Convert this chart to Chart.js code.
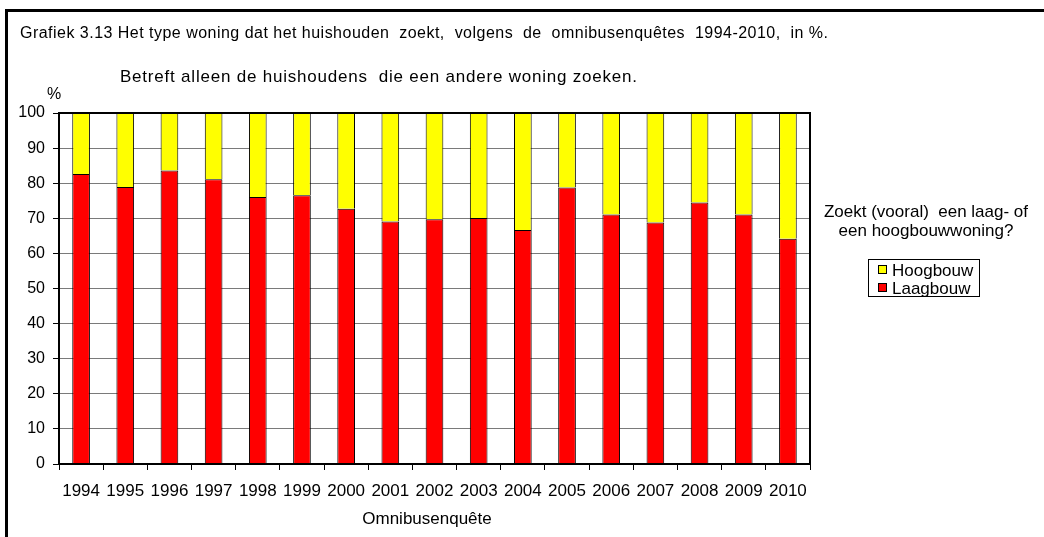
<!DOCTYPE html>
<html>
<head>
<meta charset="utf-8">
<script src="https://cdn.jsdelivr.net/npm/chart.js@4"></script>
<style>
  html, body { margin: 0; padding: 0; background: #fff; }
  #wrap { width: 1044px; height: 537px; }
</style>
</head>
<body>
<div id="wrap"><canvas id="myChart" width="1044" height="537"></canvas></div>
<script>
const years = ["1994", "1995", "1996", "1997", "1998", "1999", "2000", "2001", "2002",
  "2003", "2004", "2005", "2006", "2007", "2008", "2009", "2010"];
const laagbouw = [82.6, 78.9, 83.6, 81.1, 76.1, 76.6, 72.7, 69.1, 69.7,
  70.1, 66.7, 78.8, 71.1, 68.8, 74.5, 71.1, 64.2];
const hoogbouw = [17.4, 21.1, 16.4, 18.9, 23.9, 23.4, 27.3, 30.9, 30.3,
  29.9, 33.3, 21.2, 28.9, 31.2, 25.5, 28.9, 35.8];
const yTicks = [0, 10, 20, 30, 40, 50, 60, 70, 80, 90, 100];

const titleText = "Grafiek 3.13 Het type woning dat het huishouden  zoekt,  volgens  de  omnibusenquêtes  1994-2010,  in %.";
const subTitleText = "Betreft alleen de huishoudens  die een andere woning zoeken.";
const legendTitle = ["Zoekt (vooral)  een laag- of", "een hoogbouwwoning?"];

const FONT = "'Liberation Sans', Arial, sans-serif";
Chart.defaults.font.family = FONT;
Chart.defaults.color = "#000";

// text spread out a little to the width Excel gave it
function spreadText(ctx, text, x, y, width) {
  ctx.letterSpacing = "0px";
  const w = ctx.measureText(text).width;
  const sp = Math.max(0, (width - w) / (text.length - 1));
  ctx.letterSpacing = sp + "px";
  ctx.fillText(text, x, y);
  ctx.letterSpacing = "0px";
}

// frame, texts, plot border and legend
const decor = {
  id: "decor",
  afterDraw(chart) {
    const ctx = chart.ctx;
    const a = chart.chartArea;
    ctx.save();
    // outer frame (only left and top visible)
    ctx.strokeStyle = "#000";
    ctx.lineWidth = 3;
    ctx.beginPath();
    ctx.moveTo(6.5, 537);
    ctx.lineTo(6.5, 10.5);
    ctx.lineTo(1044, 10.5);
    ctx.stroke();

    // plot border
    ctx.lineWidth = 2;
    ctx.strokeRect(a.left, a.top, a.right - a.left, a.bottom - a.top);

    ctx.fillStyle = "#000";
    ctx.textBaseline = "middle";
    ctx.textAlign = "left";
    ctx.font = "16px " + FONT;
    spreadText(ctx, titleText, 20, 34, 808);
    ctx.fillText("%", 47, 95);
    ctx.font = "17px " + FONT;
    spreadText(ctx, subTitleText, 120, 77, 517);

    // axis title
    ctx.textAlign = "center";
    ctx.fillText("Omnibusenquête", 427, 519);

    // legend
    ctx.fillText(legendTitle[0], 926, 212);
    ctx.fillText(legendTitle[1], 926, 231);
    ctx.lineWidth = 1;
    ctx.strokeRect(868.5, 259.5, 111, 37);
    const items = [chart.data.datasets[1], chart.data.datasets[0]];
    ctx.textAlign = "left";
    items.forEach((ds, i) => {
      const cy = 270 + i * 18;
      ctx.fillStyle = ds.backgroundColor;
      ctx.fillRect(878.5, cy - 4.5, 8, 8);
      ctx.strokeRect(878.5, cy - 4.5, 8, 8);
      ctx.fillStyle = "#000";
      ctx.fillText(ds.label, 892, cy + 1);
    });
    ctx.restore();
  }
};

const ctx = document.getElementById("myChart").getContext("2d");
const myChart = new Chart(ctx, {
  type: "bar",
  data: {
    labels: years,
    datasets: [
      {
        label: "Laagbouw",
        data: laagbouw,
        backgroundColor: "#ff0000",
        borderColor: "#000",
        borderWidth: 1,
        barPercentage: 0.4,
        categoryPercentage: 1,
      },
      {
        label: "Hoogbouw",
        data: hoogbouw,
        backgroundColor: "#ffff00",
        borderColor: "#000",
        borderWidth: 1,
        barPercentage: 0.4,
        categoryPercentage: 1,
      },
    ],
  },
  options: {
    responsive: false,
    animation: false,
    layout: { padding: { left: 0, right: 234, top: 113, bottom: 0 } },
    scales: {
      x: {
        stacked: true,
        offset: true,
        afterFit(scale) { scale.height = 73; },
        grid: { drawOnChartArea: false, drawTicks: true, tickLength: 6, color: "#000", offset: true },
        border: { color: "#000", width: 2 },
        ticks: { color: "#000", font: { size: 17 }, padding: 11, maxRotation: 0, autoSkip: false },
      },
      y: {
        stacked: true,
        min: 0,
        max: 100,
        afterFit(scale) { scale.width = 59; },
        afterBuildTicks(scale) { scale.ticks = yTicks.map((v) => ({ value: v })); },
        grid: {
          color: (c) => (c.tick && c.tick.value === 100 ? "#000" : "#7a7a7a"),
          tickColor: "#000",
          tickLength: 6,
          lineWidth: 1,
        },
        border: { color: "#000", width: 2 },
        ticks: { color: "#000", font: { size: 16 }, padding: 8 },
      },
    },
    plugins: {
      legend: { display: false },
      title: { display: false },
      tooltip: { enabled: false },
    },
  },
  plugins: [decor],
});
</script>
</body>
</html>
